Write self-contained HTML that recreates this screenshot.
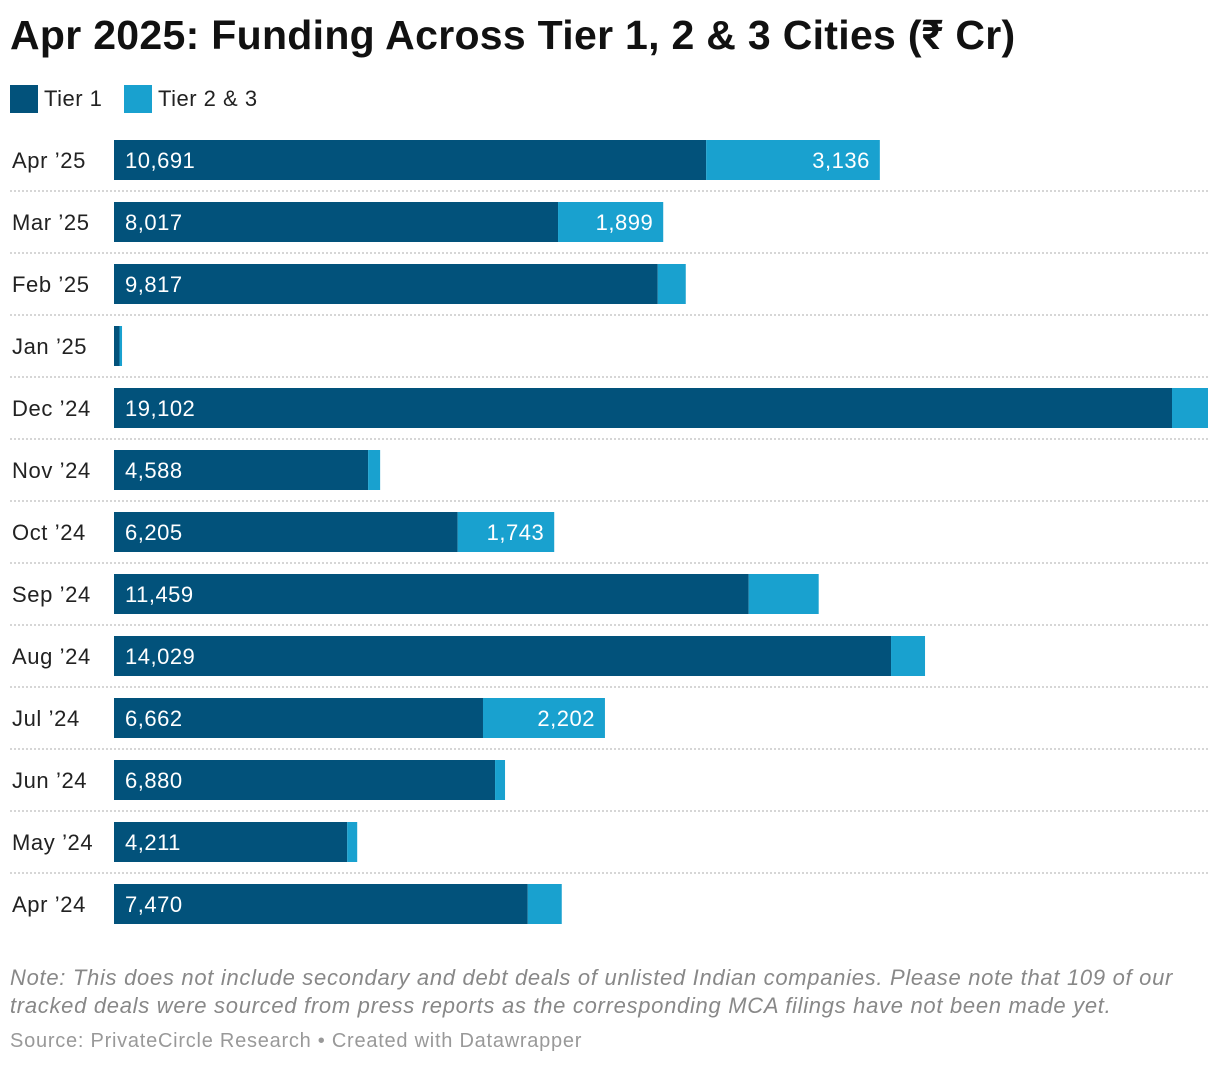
<!DOCTYPE html>
<html><head><meta charset="utf-8">
<style>
body{margin:0;background:#fff;font-family:"Liberation Sans",Roboto,sans-serif;}
#wrap{position:relative;width:1220px;height:1068px;overflow:hidden;}
h1{position:absolute;left:10px;top:12px;margin:0;font-size:41px;font-weight:bold;color:#111;letter-spacing:0.3px;white-space:nowrap;}
.leg{position:absolute;top:85px;font-size:22px;color:#222;display:flex;align-items:center;letter-spacing:0.5px;}
.sw{width:28px;height:28px;display:inline-block;margin-right:6px;}
.note{position:absolute;left:10px;top:964px;font-size:22px;font-style:italic;color:#888;line-height:28px;width:1210px;white-space:nowrap;letter-spacing:0.7px;}
.src{position:absolute;left:10px;top:1030px;font-size:20px;color:#999;letter-spacing:0.75px;}
</style></head><body>
<div id="wrap">
<h1>Apr 2025: Funding Across Tier 1, 2 &amp; 3 Cities (₹ Cr)</h1>
<div class="leg" style="left:10px"><span class="sw" style="background:#02527b"></span>Tier 1</div>
<div class="leg" style="left:124px"><span class="sw" style="background:#19a1cf"></span>Tier 2 &amp; 3</div>
<svg id="chart" width="1220" height="940" style="position:absolute;left:0;top:0"></svg>
<div class="note">Note: This does not include secondary and debt deals of unlisted Indian companies. Please note that 109 of our<br>tracked deals were sourced from press reports as the corresponding MCA filings have not been made yet.</div>
<div class="src">Source: PrivateCircle Research • Created with Datawrapper</div>
</div>
<script>
const categories=["Apr ’25","Mar ’25","Feb ’25","Jan ’25","Dec ’24","Nov ’24","Oct ’24","Sep ’24","Aug ’24","Jul ’24","Jun ’24","May ’24","Apr ’24"];
const tier1=[10691,8017,9817,100,19102,4588,6205,11459,14029,6662,6880,4211,7470];
const tier2=[3136,1899,506,45,650,217,1743,1264,614,2202,180,180,614];
const showTier1Label=[true,true,true,false,true,true,true,true,true,true,true,true,true];
const showTier2Label=[true,true,false,false,false,false,true,false,false,true,false,false,false];

const svg=document.getElementById('chart');
const NS='http://www.w3.org/2000/svg';
const x0=114, scale=1058/19102;
const xs=v=>v*scale;
const yRow=i=>140+i*62;
const fmt=v=>v.toLocaleString('en-US');
function mk(tag,attrs){const e=document.createElementNS(NS,tag);for(const k in attrs)e.setAttribute(k,attrs[k]);svg.appendChild(e);return e;}
categories.forEach((c,i)=>{
  const y=yRow(i);
  const lab=mk('text',{x:12,y:y+28,'font-size':22,fill:'#222','letter-spacing':0.6,'font-family':'Liberation Sans, sans-serif'});
  lab.textContent=c;
  
  
  const w1=xs(tier1[i]), w2=xs(tier2[i]);
  const b1=mk('rect',{x:x0,y:y,width:w1,height:40,fill:'#02527b'});
  
  
  const b2=mk('rect',{x:x0+w1,y:y,width:w2,height:40,fill:'#19a1cf'});
  
  
  if(showTier1Label[i]){
    const t=mk('text',{x:x0+11,y:y+28,'font-size':22,fill:'#fff','letter-spacing':0.5,'font-family':'Liberation Sans, sans-serif'});
    t.textContent=fmt(tier1[i]);
    
    
  }
  if(showTier2Label[i]){
    const t=mk('text',{x:x0+w1+w2-10,y:y+28,'font-size':22,fill:'#fff','text-anchor':'end','letter-spacing':0.5,'font-family':'Liberation Sans, sans-serif'});
    t.textContent=fmt(tier2[i]);
    
    
  }
  if(i<categories.length-1){
    const l=mk('line',{x1:10,x2:1208,y1:y+51,y2:y+51,stroke:'#c8c8c8','stroke-width':1.5,'stroke-dasharray':'2,2'});
    
    
  }
});
</script>
</body></html>
